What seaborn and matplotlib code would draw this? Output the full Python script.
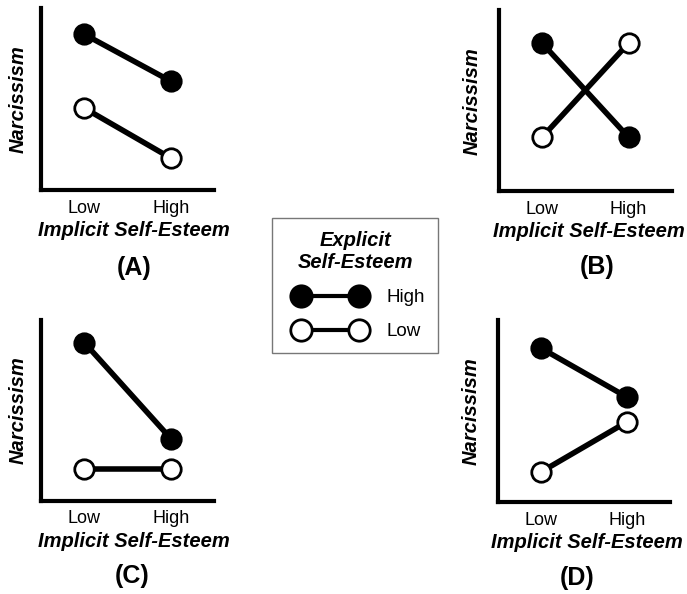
import matplotlib
matplotlib.use('Agg')
import matplotlib.pyplot as plt
from matplotlib.legend_handler import HandlerLine2D
import pandas as pd
import seaborn as sns

# ---- data ----
levels = ['Low', 'High']
a_high = [8.57, 5.99]
a_low = [4.51, 1.76]
b_high = [8.18, 2.98]
b_low = [2.98, 8.18]
c_high = [8.73, 3.43]
c_low = [1.77, 1.77]
d_high = [8.46, 5.77]
d_low = [1.65, 4.40]
panel_labels = ['(A)', '(B)', '(C)', '(D)']
series_names = ['High', 'Low']
xlabel = 'Implicit Self-Esteem'
ylabel = 'Narcissism'
legend_title = 'Explicit\nSelf-Esteem'

sns.set_style('white')
plt.rcParams['font.family'] = ['Liberation Sans', 'DejaVu Sans']
plt.rcParams['text.color'] = 'black'
plt.rcParams['axes.labelcolor'] = 'black'
plt.rcParams['xtick.color'] = 'black'
plt.rcParams['ytick.color'] = 'black'

fig = plt.figure(figsize=(6.87, 5.94), dpi=100)

panels = [
    (a_high, a_low, [0.0597, 0.680, 0.252, 0.306], 0.537, -0.080, (0.535, -0.43)),
    (b_high, b_low, [0.726, 0.678, 0.252, 0.305], 0.520, -0.098, (0.566, -0.42)),
    (c_high, c_low, [0.0597, 0.157, 0.252, 0.305], 0.537, -0.080, (0.529, -0.415)),
    (d_high, d_low, [0.725, 0.155, 0.250, 0.306], 0.515, -0.099, (0.460, -0.42)),
]

axes = []
for (hi, lo, pos, xl_x, yl_x, lab_pos), plab in zip(panels, panel_labels):
    ax = fig.add_axes(pos)
    axes.append(ax)
    df = pd.DataFrame({'ISE': levels * 2, 'Narc': hi + lo,
                       'ESE': [series_names[0]] * 2 + [series_names[1]] * 2})
    for name, face in zip(series_names, ['black', 'white']):
        sub = df[df['ESE'] == name]
        sns.lineplot(data=sub, x='ISE', y='Narc', sort=False, ax=ax,
                     color='black', lw=4.0, marker='o', markersize=14,
                     markerfacecolor=face, markeredgecolor='black',
                     markeredgewidth=2.0, label=name)
    ax.set_xlim(-0.5, 1.5)
    ax.set_ylim(0, 10)
    ax.set_yticks([])
    ax.tick_params(axis='x', length=0, pad=7, labelsize=13)
    for s in ['top', 'right']:
        ax.spines[s].set_visible(False)
    for s in ['left', 'bottom']:
        ax.spines[s].set_linewidth(3.0)
        ax.spines[s].set_color('black')
    ax.set_xlabel(xlabel, fontsize=14.5, fontweight='bold', fontstyle='italic')
    ax.set_ylabel(ylabel, fontsize=14.5, fontweight='bold', fontstyle='italic')
    ax.xaxis.set_label_coords(xl_x, -0.17)
    ax.yaxis.set_label_coords(yl_x, 0.5)
    ax.text(lab_pos[0], lab_pos[1], plab, transform=ax.transAxes,
            ha='center', va='center', fontsize=18, fontweight='bold')

handles, labels = axes[0].get_legend_handles_labels()
for ax in axes:
    if ax.get_legend() is not None:
        ax.get_legend().remove()

leg = fig.legend(handles, labels, title=legend_title, loc='center',
                 bbox_to_anchor=(0.5168, 0.519), numpoints=2,
                 handlelength=4.79, frameon=True, fancybox=False,
                 edgecolor='#555555', prop={'size': 13.5},
                 title_fontproperties={'size': 14.5, 'weight': 'bold',
                                       'style': 'italic'},
                 labelspacing=0.9, borderpad=0.7, handletextpad=0.65,
                 markerscale=1.1,
                 handler_map={h: HandlerLine2D(marker_pad=0.85) for h in handles})
leg.get_frame().set_linewidth(1.0)
leg.get_title().set_multialignment('center')
for ln in leg.get_lines():
    ln.set_linewidth(3.0)

fig.savefig('out.png', dpi=100)
